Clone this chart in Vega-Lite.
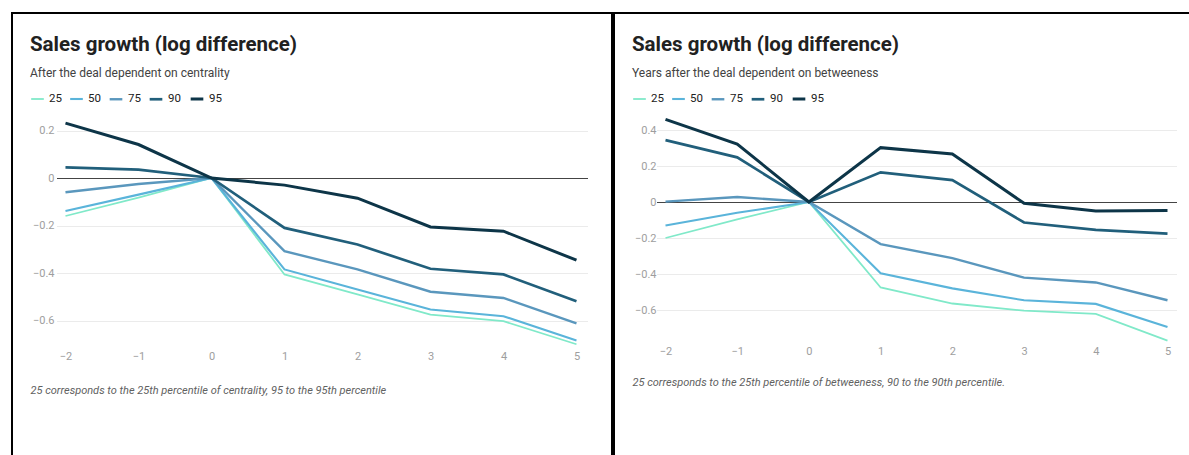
{
  "$schema": "https://vega.github.io/schema/vega-lite/v6.json",
  "padding": {"left": 11, "top": 12, "right": 0, "bottom": 0},
  "background": "white",
  "spacing": 0,
  "datasets": {
    "centrality": [
      {"t": -2, "pct": "25", "v": -0.16}, {"t": -1, "pct": "25", "v": -0.083}, {"t": 0, "pct": "25", "v": 0}, {"t": 1, "pct": "25", "v": -0.406}, {"t": 2, "pct": "25", "v": -0.49}, {"t": 3, "pct": "25", "v": -0.575}, {"t": 4, "pct": "25", "v": -0.603}, {"t": 5, "pct": "25", "v": -0.70},
      {"t": -2, "pct": "50", "v": -0.139}, {"t": -1, "pct": "50", "v": -0.07}, {"t": 0, "pct": "50", "v": 0}, {"t": 1, "pct": "50", "v": -0.385}, {"t": 2, "pct": "50", "v": -0.469}, {"t": 3, "pct": "50", "v": -0.554}, {"t": 4, "pct": "50", "v": -0.582}, {"t": 5, "pct": "50", "v": -0.684},
      {"t": -2, "pct": "75", "v": -0.06}, {"t": -1, "pct": "75", "v": -0.025}, {"t": 0, "pct": "75", "v": 0}, {"t": 1, "pct": "75", "v": -0.308}, {"t": 2, "pct": "75", "v": -0.385}, {"t": 3, "pct": "75", "v": -0.479}, {"t": 4, "pct": "75", "v": -0.505}, {"t": 5, "pct": "75", "v": -0.612},
      {"t": -2, "pct": "90", "v": 0.045}, {"t": -1, "pct": "90", "v": 0.035}, {"t": 0, "pct": "90", "v": 0}, {"t": 1, "pct": "90", "v": -0.21}, {"t": 2, "pct": "90", "v": -0.28}, {"t": 3, "pct": "90", "v": -0.382}, {"t": 4, "pct": "90", "v": -0.406}, {"t": 5, "pct": "90", "v": -0.519},
      {"t": -2, "pct": "95", "v": 0.231}, {"t": -1, "pct": "95", "v": 0.141}, {"t": 0, "pct": "95", "v": 0}, {"t": 1, "pct": "95", "v": -0.03}, {"t": 2, "pct": "95", "v": -0.085}, {"t": 3, "pct": "95", "v": -0.206}, {"t": 4, "pct": "95", "v": -0.224}, {"t": 5, "pct": "95", "v": -0.346}
    ],
    "betweeness": [
      {"t": -2, "pct": "25", "v": -0.2}, {"t": -1, "pct": "25", "v": -0.097}, {"t": 0, "pct": "25", "v": 0}, {"t": 1, "pct": "25", "v": -0.475}, {"t": 2, "pct": "25", "v": -0.564}, {"t": 3, "pct": "25", "v": -0.604}, {"t": 4, "pct": "25", "v": -0.622}, {"t": 5, "pct": "25", "v": -0.77},
      {"t": -2, "pct": "50", "v": -0.131}, {"t": -1, "pct": "50", "v": -0.06}, {"t": 0, "pct": "50", "v": 0}, {"t": 1, "pct": "50", "v": -0.396}, {"t": 2, "pct": "50", "v": -0.48}, {"t": 3, "pct": "50", "v": -0.546}, {"t": 4, "pct": "50", "v": -0.566}, {"t": 5, "pct": "50", "v": -0.695},
      {"t": -2, "pct": "75", "v": 0.002}, {"t": -1, "pct": "75", "v": 0.028}, {"t": 0, "pct": "75", "v": 0}, {"t": 1, "pct": "75", "v": -0.234}, {"t": 2, "pct": "75", "v": -0.312}, {"t": 3, "pct": "75", "v": -0.42}, {"t": 4, "pct": "75", "v": -0.447}, {"t": 5, "pct": "75", "v": -0.546},
      {"t": -2, "pct": "90", "v": 0.344}, {"t": -1, "pct": "90", "v": 0.248}, {"t": 0, "pct": "90", "v": 0}, {"t": 1, "pct": "90", "v": 0.165}, {"t": 2, "pct": "90", "v": 0.122}, {"t": 3, "pct": "90", "v": -0.114}, {"t": 4, "pct": "90", "v": -0.155}, {"t": 5, "pct": "90", "v": -0.176},
      {"t": -2, "pct": "95", "v": 0.459}, {"t": -1, "pct": "95", "v": 0.322}, {"t": 0, "pct": "95", "v": 0}, {"t": 1, "pct": "95", "v": 0.302}, {"t": 2, "pct": "95", "v": 0.267}, {"t": 3, "pct": "95", "v": -0.007}, {"t": 4, "pct": "95", "v": -0.05}, {"t": 5, "pct": "95", "v": -0.047}
    ]
  },
  "hconcat": [
    {
      "width": 600,
      "height": 450,
      "data": {"name": "centrality"},
      "title": {"text": "Sales growth (log difference)", "subtitle": "After the deal dependent on centrality", "anchor": "start", "frame": "group", "offset": -66, "dx": 18},
      "mark": {"type": "line", "clip": false},
      "encoding": {
        "x": {"field": "t", "type": "quantitative",
          "scale": {"domain": [-2.123, 5.151], "range": [44.5, 575.5], "nice": false, "zero": false},
          "axis": {"values": [-2, -1, 0, 1, 2, 3, 4, 5], "format": "d", "offset": -119, "labelPadding": 6,
            "title": "25 corresponds to the 25th percentile of centrality, 95 to the 95th percentile",
            "titleX": 18, "titleY": 46}},
        "y": {"field": "v", "type": "quantitative",
          "scale": {"domain": [-0.7, 0.2], "range": [331.25, 117.5], "nice": false, "zero": false},
          "axis": {"values": [-0.6, -0.4, -0.2, 0, 0.2]}},
        "color": {"field": "pct", "type": "ordinal", "scale": {"domain": ["25", "50", "75", "90", "95"], "range": ["#80e9c9", "#5ab4da", "#5a97bd", "#215f7b", "#0d3548"]}},
        "strokeWidth": {"field": "pct", "type": "ordinal", "scale": {"domain": ["25", "50", "75", "90", "95"], "range": [1.8, 3, 3, 3, 3.2]}}
      }
    },
    {
      "width": 580,
      "height": 450,
      "data": {"name": "betweeness"},
      "title": {"text": "Sales growth (log difference)", "subtitle": "Years after the deal dependent on betweeness", "anchor": "start", "frame": "group", "offset": -66, "dx": 18},
      "mark": {"type": "line", "clip": false},
      "encoding": {
        "x": {"field": "t", "type": "quantitative",
          "scale": {"domain": [-2.1255, 5.1255], "range": [42.5, 562.5], "nice": false, "zero": false},
          "axis": {"values": [-2, -1, 0, 1, 2, 3, 4, 5], "format": "d", "offset": -124, "labelPadding": 6,
            "title": "25 corresponds to the 25th percentile of betweeness, 90 to the 90th percentile.",
            "titleX": 18, "titleY": 43}},
        "y": {"field": "v", "type": "quantitative",
          "scale": {"domain": [-0.8, 0.5], "range": [333, 99], "nice": false, "zero": false},
          "axis": {"values": [-0.6, -0.4, -0.2, 0, 0.2, 0.4]}},
        "color": {"field": "pct", "type": "ordinal", "scale": {"domain": ["25", "50", "75", "90", "95"], "range": ["#80e9c9", "#5ab4da", "#5a97bd", "#215f7b", "#0d3548"]}},
        "strokeWidth": {"field": "pct", "type": "ordinal", "scale": {"domain": ["25", "50", "75", "90", "95"], "range": [1.8, 3, 3, 3, 3.2]}}
      }
    }
  ],
  "resolve": {"scale": {"color": "independent", "strokeWidth": "independent", "x": "independent", "y": "independent"}, "legend": {"color": "independent", "strokeWidth": "independent"}},
  "config": {
    "font": "Roboto",
    "view": {"stroke": "#000000", "strokeWidth": 2},
    "title": {"fontSize": 20.5, "fontWeight": "bold", "color": "#212121", "subtitleFontSize": 12, "subtitleColor": "#424242", "subtitlePadding": 13},
    "axisX": {"ticks": false, "domain": false, "grid": false, "labelFlush": false, "labelOverlap": false, "labelColor": "#9e9e9e", "labelFontSize": 11,
      "titleAlign": "left", "titleAnchor": "start", "titleBaseline": "middle", "titleFontStyle": "italic", "titleFontWeight": "normal", "titleFontSize": 11, "titleColor": "#616161"},
    "axisY": {"format": ".1~f", "offset": 0, "labelPadding": -42, "ticks": false, "domain": false, "title": null, "labelColor": "#9e9e9e", "labelFontSize": 11, "labelOverlap": false,
      "gridColor": {"condition": {"test": "datum.value === 0", "value": "#444444"}, "value": "#ebebeb"}, "gridWidth": 1},
    "legend": {"orient": "none", "legendX": 18, "legendY": 78, "direction": "horizontal", "title": null, "symbolType": "stroke", "symbolSize": 160, "symbolStrokeWidth": 2.6, "labelFontSize": 11.5, "labelColor": "#212121", "columnPadding": 3, "labelOffset": 4}
  }
}
